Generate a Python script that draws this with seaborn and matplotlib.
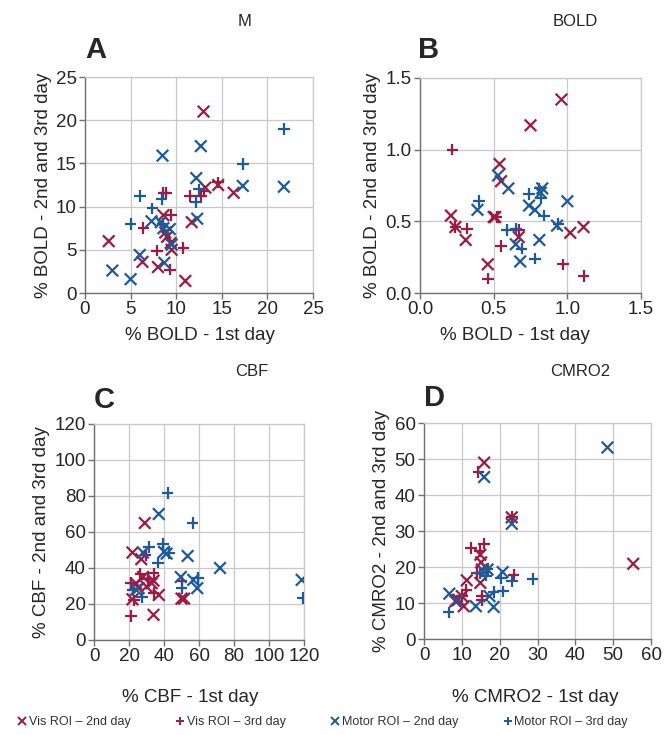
import pandas as pd
import seaborn as sns
import matplotlib.pyplot as plt
from matplotlib.lines import Line2D
from matplotlib.ticker import FormatStrFormatter

groups = ["Vis ROI – 2nd day", "Vis ROI – 3rd day", "Motor ROI – 2nd day", "Motor ROI – 3rd day"]
colors = {groups[0]: "#9e1a42", groups[1]: "#9e1a42", groups[2]: "#1c5b9b", groups[3]: "#1c5b9b"}
markers = {groups[0]: "x", groups[1]: "+", groups[2]: "x", groups[3]: "+"}

# panel A - M
m_vis2_x = [2.6, 6.3, 8.0, 8.6, 8.8, 9.0, 9.4, 9.5, 11.0, 11.7, 13.0, 13.2, 14.6, 16.3]
m_vis2_y = [6.0, 3.6, 3.0, 9.0, 7.0, 6.5, 5.8, 5.0, 1.4, 8.2, 21.0, 12.2, 12.5, 11.6]
m_vis3_x = [6.4, 7.9, 8.6, 8.9, 9.3, 9.4, 10.8, 11.5, 12.7, 13.0, 14.6]
m_vis3_y = [7.5, 4.9, 11.6, 11.6, 2.7, 9.0, 5.2, 11.2, 11.2, 11.8, 12.8]
m_mot2_x = [3.0, 5.0, 6.0, 7.3, 8.3, 8.5, 8.6, 8.7, 9.3, 9.5, 12.2, 12.3, 12.7, 17.3, 21.8]
m_mot2_y = [2.6, 1.6, 4.4, 8.3, 8.2, 15.9, 7.5, 3.5, 7.4, 5.6, 13.3, 8.6, 17.0, 12.4, 12.3]
m_mot3_x = [5.0, 6.0, 7.4, 8.4, 8.5, 12.2, 12.5, 17.3, 21.8]
m_mot3_y = [8.0, 11.2, 9.8, 10.9, 8.0, 10.5, 12.0, 14.9, 19.0]

# panel B - BOLD
b_vis2_x = [0.21, 0.24, 0.31, 0.46, 0.50, 0.54, 0.55, 0.51, 0.67, 0.75, 0.96, 1.02, 1.11]
b_vis2_y = [0.54, 0.46, 0.37, 0.20, 0.53, 0.90, 0.78, 0.53, 0.39, 1.17, 1.35, 0.42, 0.46]
b_vis3_x = [0.22, 0.24, 0.32, 0.46, 0.52, 0.55, 0.67, 0.97, 1.11]
b_vis3_y = [1.00, 0.46, 0.45, 0.10, 0.53, 0.33, 0.44, 0.20, 0.12]
b_mot2_x = [0.39, 0.53, 0.60, 0.65, 0.68, 0.74, 0.78, 0.81, 0.82, 0.83, 0.93, 1.00]
b_mot2_y = [0.58, 0.82, 0.73, 0.34, 0.22, 0.61, 0.58, 0.37, 0.70, 0.73, 0.47, 0.64]
b_mot3_x = [0.40, 0.59, 0.65, 0.69, 0.74, 0.78, 0.82, 0.84, 0.94, 0.81]
b_mot3_y = [0.64, 0.44, 0.45, 0.31, 0.69, 0.24, 0.66, 0.54, 0.48, 0.73]

# panel C - CBF
c_vis2_x = [22, 27, 29, 24, 28, 33, 34, 37, 34, 50, 51.5, 22, 25.5, 30]
c_vis2_y = [48.6, 44.9, 65, 31.5, 35, 31.5, 33, 25, 14, 23, 23, 22.6, 28.8, 29.7]
c_vis3_x = [21, 21, 23, 26.5, 29.5, 34, 34, 50, 31]
c_vis3_y = [13.4, 31.5, 22, 36.7, 47, 37, 26, 33, 33.8]
c_mot2_x = [37, 24, 28, 40, 41.5, 49.6, 53.5, 56.7, 59, 72, 118.7]
c_mot2_y = [70, 28, 48.6, 49, 48, 35, 46.7, 33.4, 28.8, 40, 33.4]
c_mot3_x = [42, 56.3, 31.3, 39.5, 42.7, 36.5, 50, 59.5, 119.3, 27.5, 22]
c_mot3_y = [81.6, 65, 51.6, 53.4, 48.2, 43, 28.8, 34.3, 23.2, 24, 27.8]

# panel D - CMRO2
d_vis2_x = [15.9, 23.2, 55.3, 11.3, 14.9, 15.1, 14.9, 9.1, 10.5, 10.0, 15.3, 8.3]
d_vis2_y = [49.0, 33.8, 20.9, 16.3, 23.4, 21.3, 15.6, 10.9, 9.1, 11.9, 19.3, 10.5]
d_vis3_x = [14.4, 23.2, 15.9, 12.5, 14.7, 23.7, 15.3, 15.3, 11.2, 10.0, 14.0]
d_vis3_y = [46.4, 34.0, 26.5, 25.3, 24.4, 17.9, 12.0, 10.9, 13.7, 11.9, 18.3]
d_mot2_x = [48.5, 15.9, 23.2, 6.7, 13.7, 16.8, 18.4, 20.8, 17.3, 8.7]
d_mot2_y = [53.2, 45.0, 32.0, 12.6, 9.1, 19.3, 8.9, 18.6, 11.9, 10.7]
d_mot3_x = [6.5, 16.8, 18.4, 20.8, 20.4, 23.2, 28.7, 16.4, 14.7]
d_mot3_y = [7.4, 19.5, 13.0, 13.2, 16.9, 16.0, 16.7, 17.6, 18.3]

panels = [
    ("M", "A", "% BOLD - 1st day", "% BOLD - 2nd and 3rd day", 25, 5,
     [(m_vis2_x, m_vis2_y), (m_vis3_x, m_vis3_y), (m_mot2_x, m_mot2_y), (m_mot3_x, m_mot3_y)]),
    ("BOLD", "B", "% BOLD - 1st day", "% BOLD - 2nd and 3rd day", 1.5, 0.5,
     [(b_vis2_x, b_vis2_y), (b_vis3_x, b_vis3_y), (b_mot2_x, b_mot2_y), (b_mot3_x, b_mot3_y)]),
    ("CBF", "C", "% CBF - 1st day", "% CBF - 2nd and 3rd day", 120, 20,
     [(c_vis2_x, c_vis2_y), (c_vis3_x, c_vis3_y), (c_mot2_x, c_mot2_y), (c_mot3_x, c_mot3_y)]),
    ("CMRO2", "D", "% CMRO2 - 1st day", "% CMRO2 - 2nd and 3rd day", 60, 10,
     [(d_vis2_x, d_vis2_y), (d_vis3_x, d_vis3_y), (d_mot2_x, d_mot2_y), (d_mot3_x, d_mot3_y)]),
]

sns.set_style("white")
plt.rcParams['font.family'] = ['Liberation Sans', 'DejaVu Sans']

W, H = 665, 735
fig = plt.figure(figsize=(W / 100, H / 100), dpi=100)

# axes boxes in pixels: left, top, right, bottom
boxes = [(85, 77, 313, 293), (420, 78, 641, 293), (94, 424, 304, 640), (424, 423, 651, 639)]
title_pos = [(245, 22), (575, 22), (252, 372), (580, 372)]
letter_pos = [(85, 50), (418, 50), (94, 400), (424, 398)]
xlab_pos = [(200, 336), (515, 336), (190, 697), (535, 697)]

for (title, letter, xl, yl, vmax, step, series), box, tp, lp, xp in zip(panels, boxes, title_pos, letter_pos, xlab_pos):
    l, t, r, b = box
    ax = fig.add_axes([l / W, 1 - b / H, (r - l) / W, (b - t) / H])
    rows = []
    for g, (xs, ys) in zip(groups, series):
        for x, y in zip(xs, ys):
            rows.append({"x": x, "y": y, "group": g})
    df = pd.DataFrame(rows)
    sns.scatterplot(data=df, x="x", y="y", hue="group", style="group", palette=colors,
                    markers=markers, s=70, linewidth=1.6, legend=False, ax=ax, zorder=3)
    ax.set_xlim(0, vmax)
    ax.set_ylim(0, vmax)
    ticks = [i * step for i in range(int(round(vmax / step)) + 1)]
    ax.set_xticks(ticks)
    ax.set_yticks(ticks)
    if step < 1:
        ax.xaxis.set_major_formatter(FormatStrFormatter("%.1f"))
        ax.yaxis.set_major_formatter(FormatStrFormatter("%.1f"))
    ax.grid(True, color="#c8c8c8", linewidth=0.9)
    ax.set_axisbelow(True)
    for side in ["top", "right"]:
        ax.spines[side].set_color("#c8c8c8")
        ax.spines[side].set_linewidth(0.9)
    for side in ["left", "bottom"]:
        ax.spines[side].set_color("#707070")
        ax.spines[side].set_linewidth(1.0)
    ax.tick_params(axis="both", labelsize=13.5, length=4, width=1, color="#707070", direction="out",
                   pad=2, bottom=True, left=True)
    ax.set_xlabel("")
    ax.set_ylabel(yl, fontsize=13.5, labelpad=3)
    fig.text(xp[0] / W, 1 - xp[1] / H, xl, ha="center", va="center", fontsize=13.5)
    fig.text(tp[0] / W, 1 - tp[1] / H, title, ha="center", va="center", fontsize=12)
    fig.text(lp[0] / W, 1 - lp[1] / H, letter, ha="left", va="center", fontsize=21, fontweight="bold")

handles = [Line2D([], [], linestyle="none", marker=markers[g], color=colors[g], markersize=6,
                  markeredgewidth=1.4) for g in groups]
leg = fig.legend(handles, groups, loc="center", bbox_to_anchor=(0.485, 1 - 722 / H), ncol=4, frameon=False,
                 fontsize=9, handletextpad=0.1, columnspacing=3.6, handlelength=0.8)
for txt in leg.get_texts():
    txt.set_color("#333333")

fig.savefig("out.png", dpi=100)
